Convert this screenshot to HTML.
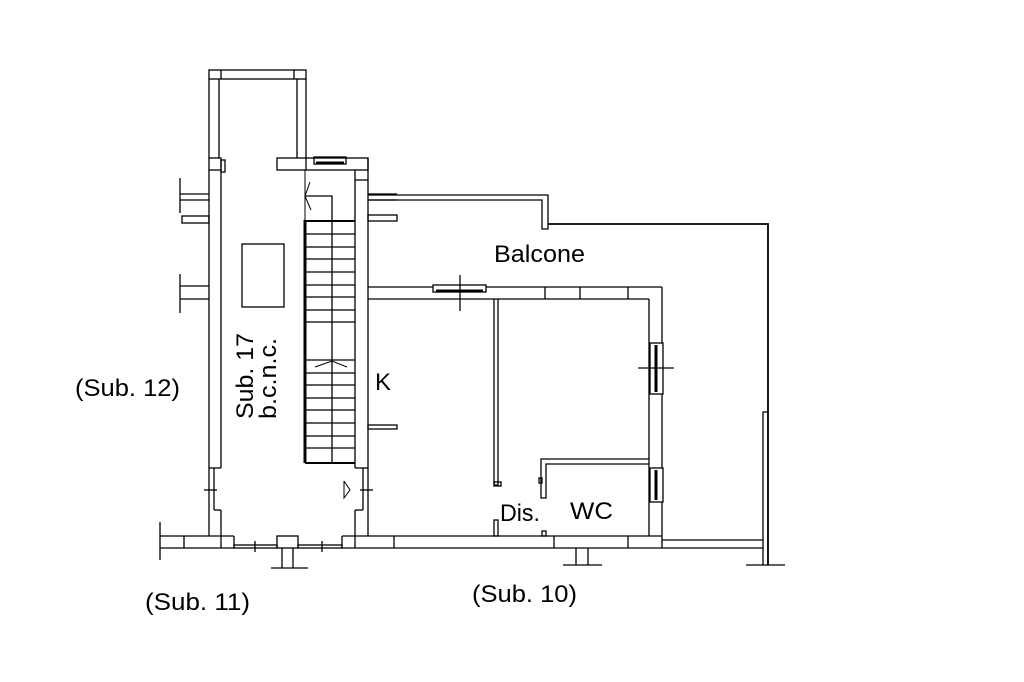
<!DOCTYPE html>
<html><head><meta charset="utf-8"><style>
html,body{margin:0;padding:0;background:#fff;}
svg{display:block;}
text{font-family:"Liberation Sans",sans-serif;fill:#000;}
</style></head><body>
<svg width="1024" height="682" viewBox="0 0 1024 682" xmlns="http://www.w3.org/2000/svg">
<g fill="none" stroke="#000" stroke-width="1.3">
<rect x="209" y="70" width="97" height="9"/>
<line x1="221" y1="70" x2="221" y2="79"/><line x1="294" y1="70" x2="294" y2="79"/>
<line x1="209" y1="79" x2="209" y2="158"/><line x1="219" y1="79" x2="219" y2="158"/>
<line x1="297" y1="79" x2="297" y2="158"/><line x1="306" y1="79" x2="306" y2="158"/>
<rect x="209" y="158" width="12" height="12"/>
<rect x="221" y="160" width="4" height="12"/>
<line x1="209" y1="170" x2="209" y2="468"/><line x1="221" y1="170" x2="221" y2="468"/>
<line x1="209" y1="468" x2="221" y2="468"/>
<rect x="277" y="158" width="91" height="12"/>
<line x1="306" y1="158" x2="306" y2="170"/>
<rect x="314" y="157" width="32" height="7"/>
<line x1="316" y1="163" x2="344" y2="163" stroke-width="3"/>
<line x1="355" y1="170" x2="355" y2="468"/><line x1="368" y1="158" x2="368" y2="468"/>
<line x1="355" y1="180" x2="368" y2="180"/><line x1="355" y1="468" x2="368" y2="468"/>
<line x1="305" y1="170" x2="305" y2="463" stroke-width="1"/>
<line x1="305" y1="220" x2="305" y2="463" stroke-width="3"/>
<line x1="305" y1="463" x2="355" y2="463" stroke-width="2"/>
<polyline points="305,196 332,196 332,463"/>
<g stroke-width="1.2">
<line x1="305" y1="221" x2="355" y2="221" stroke-width="2"/>
<line x1="305" y1="234" x2="355" y2="234"/><line x1="305" y1="247" x2="355" y2="247"/>
<line x1="305" y1="259" x2="355" y2="259"/><line x1="305" y1="272" x2="355" y2="272"/>
<line x1="305" y1="285" x2="355" y2="285"/><line x1="305" y1="297" x2="355" y2="297"/>
<line x1="305" y1="310" x2="355" y2="310"/><line x1="305" y1="322" x2="355" y2="322"/>
<line x1="305" y1="360" x2="355" y2="360"/><line x1="305" y1="373" x2="355" y2="373"/>
<line x1="305" y1="385" x2="355" y2="385"/><line x1="305" y1="398" x2="355" y2="398"/>
<line x1="305" y1="410" x2="355" y2="410"/><line x1="305" y1="423" x2="355" y2="423"/>
<line x1="305" y1="436" x2="355" y2="436"/><line x1="305" y1="448" x2="355" y2="448"/>
</g>
<polyline points="310,182 305,196 311,210" stroke-width="1"/>
<polyline points="315,367 332,361 347,367" stroke-width="1"/>
<rect x="242" y="244" width="42" height="63"/>
<line x1="180" y1="178" x2="180" y2="213"/>
<line x1="180" y1="194" x2="209" y2="194"/><line x1="180" y1="200" x2="209" y2="200"/>
<rect x="182" y="216" width="27" height="7"/>
<line x1="180" y1="274" x2="180" y2="313"/>
<line x1="180" y1="286" x2="209" y2="286"/><line x1="180" y1="299" x2="209" y2="299"/>
<line x1="368" y1="194" x2="397" y2="194"/><line x1="368" y1="200" x2="397" y2="200"/>
<rect x="368" y="215" width="29" height="6"/>
<rect x="368" y="425" width="29" height="4"/>
<line x1="209" y1="468" x2="209" y2="536"/><line x1="214" y1="468" x2="214" y2="510"/>
<line x1="221" y1="510" x2="221" y2="536"/><line x1="214" y1="510" x2="221" y2="510"/>
<line x1="204" y1="490" x2="217" y2="490"/>
<line x1="368" y1="468" x2="368" y2="536"/><line x1="363" y1="468" x2="363" y2="510"/>
<line x1="355" y1="510" x2="355" y2="536"/><line x1="355" y1="510" x2="363" y2="510"/>
<line x1="360" y1="490" x2="373" y2="490"/>
<polyline points="344,481 350,490 344,498 344,481" stroke-width="1"/>
<line x1="160" y1="522" x2="160" y2="560"/>
<line x1="160" y1="536" x2="234" y2="536"/><line x1="160" y1="548" x2="234" y2="548"/>
<line x1="184" y1="536" x2="184" y2="548"/><line x1="221" y1="536" x2="221" y2="548"/>
<line x1="234" y1="536" x2="234" y2="548"/>
<rect x="234" y="545" width="43" height="3"/><line x1="255" y1="541" x2="255" y2="552"/>
<rect x="277" y="536" width="21" height="12"/>
<line x1="282" y1="548" x2="282" y2="568"/><line x1="293" y1="548" x2="293" y2="568"/>
<line x1="271" y1="568" x2="308" y2="568"/>
<rect x="298" y="545" width="44" height="3"/><line x1="322" y1="541" x2="322" y2="552"/>
<line x1="342" y1="536" x2="662" y2="536"/><line x1="342" y1="548" x2="662" y2="548"/>
<line x1="342" y1="536" x2="342" y2="548"/><line x1="355" y1="536" x2="355" y2="548"/>
<line x1="394" y1="536" x2="394" y2="548"/><line x1="554" y1="536" x2="554" y2="548"/>
<line x1="628" y1="536" x2="628" y2="548"/><line x1="662" y1="536" x2="662" y2="548"/>
<line x1="588" y1="548" x2="588" y2="565"/><line x1="576" y1="548" x2="576" y2="565"/>
<line x1="563" y1="565" x2="602" y2="565"/>
<line x1="662" y1="540" x2="763" y2="540"/><line x1="662" y1="548" x2="763" y2="548"/>
<polyline points="368,195 548,195 548,229 542,229 542,200 368,200"/>
<polyline points="548,224 768,224 768,565" stroke-width="1.8"/>
<polyline points="768,412 763,412 763,565"/>
<line x1="746" y1="565" x2="785" y2="565"/>
<line x1="368" y1="287" x2="662" y2="287"/><line x1="368" y1="299" x2="649" y2="299"/>
<line x1="545" y1="287" x2="545" y2="299"/><line x1="580" y1="287" x2="580" y2="299"/>
<line x1="628" y1="287" x2="628" y2="299"/>
<rect x="433" y="285" width="53" height="7" fill="#fff"/>
<line x1="436" y1="291" x2="483" y2="291" stroke-width="3"/>
<line x1="460" y1="275" x2="460" y2="311"/>
<line x1="662" y1="287" x2="662" y2="536"/><line x1="649" y1="299" x2="649" y2="536"/>
<rect x="650" y="343" width="13" height="51" fill="#fff"/>
<line x1="656" y1="345" x2="656" y2="392" stroke-width="3"/>
<line x1="638" y1="368" x2="674" y2="368"/>
<rect x="650" y="468" width="13" height="34" fill="#fff"/>
<line x1="656" y1="470" x2="656" y2="500" stroke-width="3"/>
<polyline points="494,299 494,485 498,485 498,299"/>
<rect x="494" y="482" width="7" height="4"/>
<rect x="494" y="520" width="4" height="16"/>
<polyline points="649,459 541,459 541,498 546,498 546,464 649,464"/>
<rect x="539" y="478" width="3" height="5"/>
<rect x="542" y="531" width="4" height="5"/>
</g>
<g font-size="24">
<text x="75" y="396" textLength="105" lengthAdjust="spacingAndGlyphs">(Sub. 12)</text>
<text x="145" y="610" textLength="105" lengthAdjust="spacingAndGlyphs">(Sub. 11)</text>
<text x="472" y="602" textLength="105" lengthAdjust="spacingAndGlyphs">(Sub. 10)</text>
<text x="494" y="262" textLength="91" lengthAdjust="spacingAndGlyphs">Balcone</text>
<text x="375" y="390" textLength="16" lengthAdjust="spacingAndGlyphs">K</text>
<text x="500" y="521" textLength="40" lengthAdjust="spacingAndGlyphs">Dis.</text>
<text x="570" y="519" textLength="43" lengthAdjust="spacingAndGlyphs">WC</text>
<text transform="translate(253,419) rotate(-90)" textLength="86" lengthAdjust="spacingAndGlyphs">Sub. 17</text>
<text transform="translate(276,419) rotate(-90)" textLength="81" lengthAdjust="spacingAndGlyphs">b.c.n.c.</text>
</g>
</svg>
</body></html>
